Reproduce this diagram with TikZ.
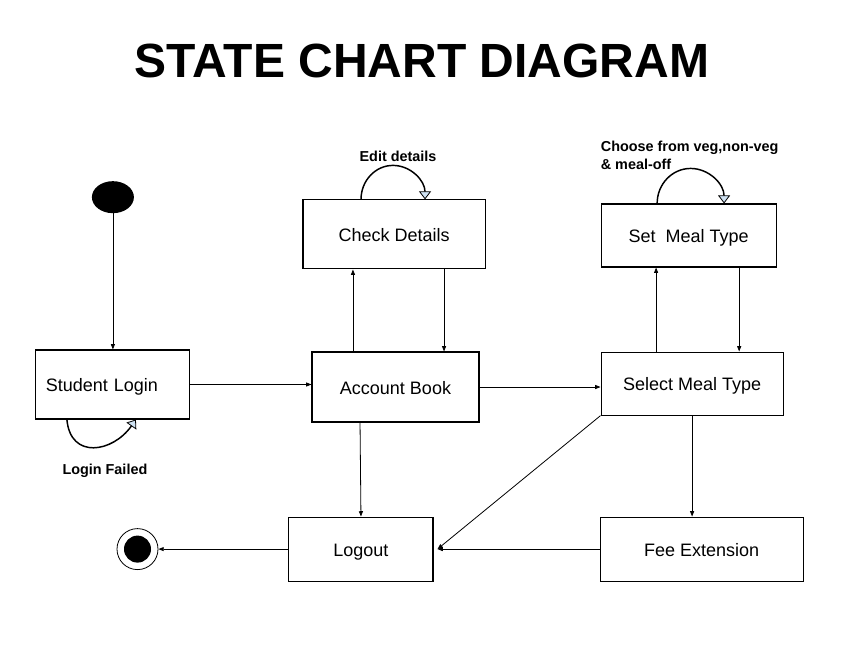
\documentclass[tikz,border=0pt]{standalone}
\usepackage{fontspec}
\setmainfont{Liberation Sans}
\usetikzlibrary{shapes.geometric, positioning, arrows.meta}
\definecolor{tipblue}{HTML}{CFE2F3}
\tikzset{state/.style={
          draw,
          rectangle,
          line width=0.8pt,
          inner sep=0pt,
          text height=12pt,
          text depth=1.5pt,
          font=\fontsize{13.5}{16}\selectfont,
          text centered
     }}
\tikzset{note/.style={ % small bold labels of the self loops
        inner sep=0pt,
        font=\fontsize{10.8}{12.8}\selectfont\bfseries
    }}
\tikzset{selfloop/.style={
        line width=1.1pt,
        -{Triangle[length=6pt,width=9pt,line width=0.6pt,fill=tipblue]}
    }}
\tikzstyle{arrow} = [line width=0.6pt,-{Triangle[length=4pt,width=3pt]}]

\begin{document}
\begin{tikzpicture}
\useasboundingbox (-296.6pt,-201.75pt) rectangle (337.1pt,290.25pt);

\node (ab) [state, minimum width=125.25pt, minimum height=52.5pt] at (0,0) {Account Book};
\node (sl) [state, minimum width=115.5pt, minimum height=51.75pt, text width=100.5pt, align=left, left=90.75pt of ab, yshift=1.9pt] {Student Login};
\node (sm) [state, minimum width=136.5pt, minimum height=47.25pt, right=90.75pt of ab, yshift=2.6pt] {Select Meal Type};
\node (cd) [state, minimum width=136.5pt, minimum height=51.75pt, above=61.5pt of ab, xshift=-1.1pt] {Check Details};
\node (st) [state, minimum width=131.25pt, minimum height=47.25pt, above=63pt of sm, xshift=-2.6pt] {Set\ \ Meal Type};
\node (lo) [state, minimum width=108pt, minimum height=48pt, below=70.5pt of ab, xshift=-25.9pt] {Logout};
\node (fe) [state, minimum width=152.25pt, minimum height=48pt, right=124.5pt of lo] {Fee Extension};
\node (init) [ellipse, fill, minimum width=31.5pt, minimum height=24pt, inner sep=0pt, above=102pt of sl] {};
\node (fin) [circle, draw, line width=0.6pt, minimum size=30.75pt, inner sep=0pt, left=97.5pt of lo] {};
\node (findot) [circle, fill, minimum size=20.25pt, inner sep=0pt] at (fin) {};
\coordinate (meet) at ([xshift=3pt]lo.east);

\node (title) [font=\fontsize{36}{40}\selectfont\bfseries, inner sep=0pt, above=90.75pt of cd, xshift=21pt] {STATE CHART DIAGRAM};
\node (edit) [note, above=28.5pt of cd, xshift=3pt] {Edit details};
\node (choice) [note, align=left, anchor=south west] at ([yshift=25.5pt]st.north west) {Choose from veg,non-veg\\\& meal-off};
\node (fail) [note, below=33pt of sl, xshift=-6pt] {Login Failed};

\draw [arrow] (init) -- (sl);
\draw [arrow] (sl.east) -- (sl.east -| ab.west);
\draw [arrow] (ab.east) -- (ab.east -| sm.west);
\draw [arrow] ([xshift=-31.9pt]ab.north) -- ([xshift=-31.9pt]ab.north |- cd.south);
\draw [arrow] ([xshift=37.5pt]cd.south) -- ([xshift=37.5pt]cd.south |- ab.north);
\draw [arrow] ([xshift=-27pt]sm.north) -- ([xshift=-27pt]sm.north |- st.south);
\draw [arrow] ([xshift=37.9pt]st.south) -- ([xshift=37.9pt]st.south |- sm.north);
\draw [arrow] ([xshift=-26.6pt]ab.south) -- (lo.north);
\draw [arrow] (sm.south) -- (sm.south |- fe.north);
\draw [arrow] (sm.south west) -- (meet);
\draw [arrow] (fe.west) -- (meet);
\draw [arrow] (lo.west) -- (fin);

% self loops
\draw [selfloop] ([xshift=-24.75pt]cd.north) arc[start angle=180, end angle=0, x radius=24pt, y radius=25.5pt];
\draw [selfloop] ([xshift=-23.6pt]st.north) arc[start angle=180, end angle=0, x radius=25.1pt, y radius=26.25pt];
\draw [selfloop] ([xshift=-34.5pt]sl.south) to[out=-85, in=-125, looseness=1.5] ([xshift=17.25pt]sl.south);
\end{tikzpicture}
\end{document}
